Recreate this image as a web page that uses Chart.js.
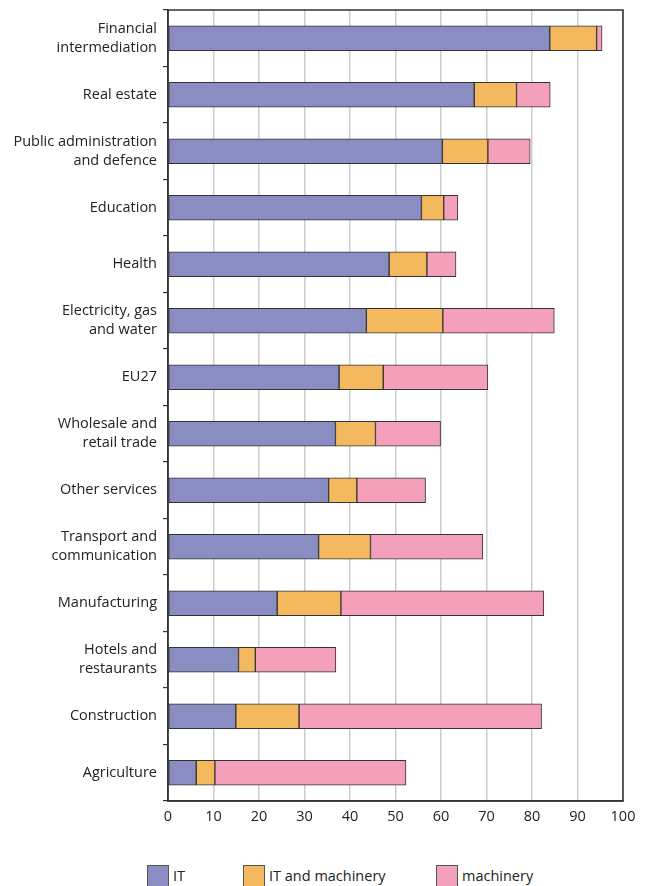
<!DOCTYPE html>
<html>
<head>
<meta charset="utf-8">
<script src="https://cdn.jsdelivr.net/npm/chart.js@4"></script>
<style>
  html, body { margin: 0; padding: 0; background: #fff; overflow: hidden; }
  #wrap { position: relative; width: 654px; height: 886px; }
  #box { position: absolute; left: 0; top: 0; width: 654px; height: 840px; }
  #legend { position: absolute; top: 865px; left: 0; width: 654px; font: 14.5px "Open Sans", sans-serif; color: #222; }
  .item { position: absolute; display: flex; align-items: flex-start; }
  .sw { width: 20px; height: 20px; border: 1px solid #555; margin-right: 4px; }
  .lbl { line-height: 22px; }
</style>
</head>
<body>
<div id="wrap">
  <div id="box"><canvas id="chart"></canvas></div>
  <div id="legend"></div>
</div>
<script>
const categories = [
  ["Financial", "intermediation"],
  "Real estate",
  ["Public administration", "and defence"],
  "Education",
  "Health",
  ["Electricity, gas", "and water"],
  "EU27",
  ["Wholesale and", "retail trade"],
  "Other services",
  ["Transport and", "communication"],
  "Manufacturing",
  ["Hotels and", "restaurants"],
  "Construction",
  "Agriculture"
];

const seriesNames = ["IT", "IT and machinery", "machinery"];
const itValues        = [83.9, 67.3, 60.3, 55.7, 48.6, 43.6, 37.6, 36.8, 35.3, 33.1, 24.0, 15.5, 14.9, 6.2];
const itMachValues    = [10.3,  9.3, 10.0,  4.9,  8.3, 16.8,  9.7,  8.8,  6.2, 11.4, 14.0,  3.7, 13.9, 4.1];
const machineryValues = [ 1.2,  7.4,  9.3,  3.1,  6.4, 24.5, 23.0, 14.3, 15.1, 24.7, 44.6, 17.7, 53.3, 42.0];
const xTicks = [0, 10, 20, 30, 40, 50, 60, 70, 80, 90, 100];

const colors = ["#8a8dc2", "#f4b95e", "#f4a0ba"];
const seriesValues = [itValues, itMachValues, machineryValues];

const frame = {
  id: "frame",
  afterDraw(chart) {
    const a = chart.chartArea, ctx = chart.ctx;
    ctx.save();
    ctx.strokeStyle = "#333";
    ctx.lineWidth = 1.5;
    ctx.strokeRect(a.left, a.top, a.right - a.left, a.bottom - a.top);
    ctx.restore();
  }
};

Chart.defaults.font.family = '"Open Sans", sans-serif';
Chart.defaults.color = "#222";

new Chart(document.getElementById("chart"), {
  type: "bar",
  data: {
    labels: categories,
    datasets: seriesNames.map((name, i) => ({
      label: name,
      data: seriesValues[i],
      backgroundColor: colors[i],
      borderColor: "#333",
      borderWidth: 1,
      borderSkipped: false,
      barThickness: 25
    }))
  },
  options: {
    indexAxis: "y",
    responsive: true,
    maintainAspectRatio: false,
    animation: false,
    layout: { padding: { top: 0, right: 31, left: 0, bottom: 0 } },
    plugins: { legend: { display: false }, tooltip: { enabled: false } },
    scales: {
      x: {
        stacked: true,
        min: 0,
        max: 100,
        afterBuildTicks: s => { s.ticks = xTicks.map(v => ({ value: v })); },
        grid: { color: "#cccccc", lineWidth: 1.5, drawTicks: false },
        border: { color: "#333", width: 1.5 },
        ticks: { font: { size: 14.5 }, padding: 7, color: "#222" },
        afterFit: s => { s.height = 39; }
      },
      y: {
        stacked: true,
        grid: { offset: true, drawOnChartArea: false, tickLength: 5, color: "#333", lineWidth: 1.2 },
        border: { color: "#333", width: 1.5 },
        ticks: { font: { size: 14.5, lineHeight: 1.3 }, padding: 6, color: "#222" },
        afterFit: s => { s.width = 168; s.paddingTop = 10; s.paddingBottom = 0; }
      }
    }
  },
  plugins: [frame]
});

const legend = document.getElementById("legend");
const legendX = [147, 243, 436];
seriesNames.forEach((name, i) => {
  const it = document.createElement("div");
  it.className = "item";
  it.style.left = legendX[i] + "px";
  it.innerHTML = '<div class="sw" style="background:' + colors[i] + '"></div><span class="lbl">' + name + '</span>';
  legend.appendChild(it);
});
</script>
</body>
</html>
